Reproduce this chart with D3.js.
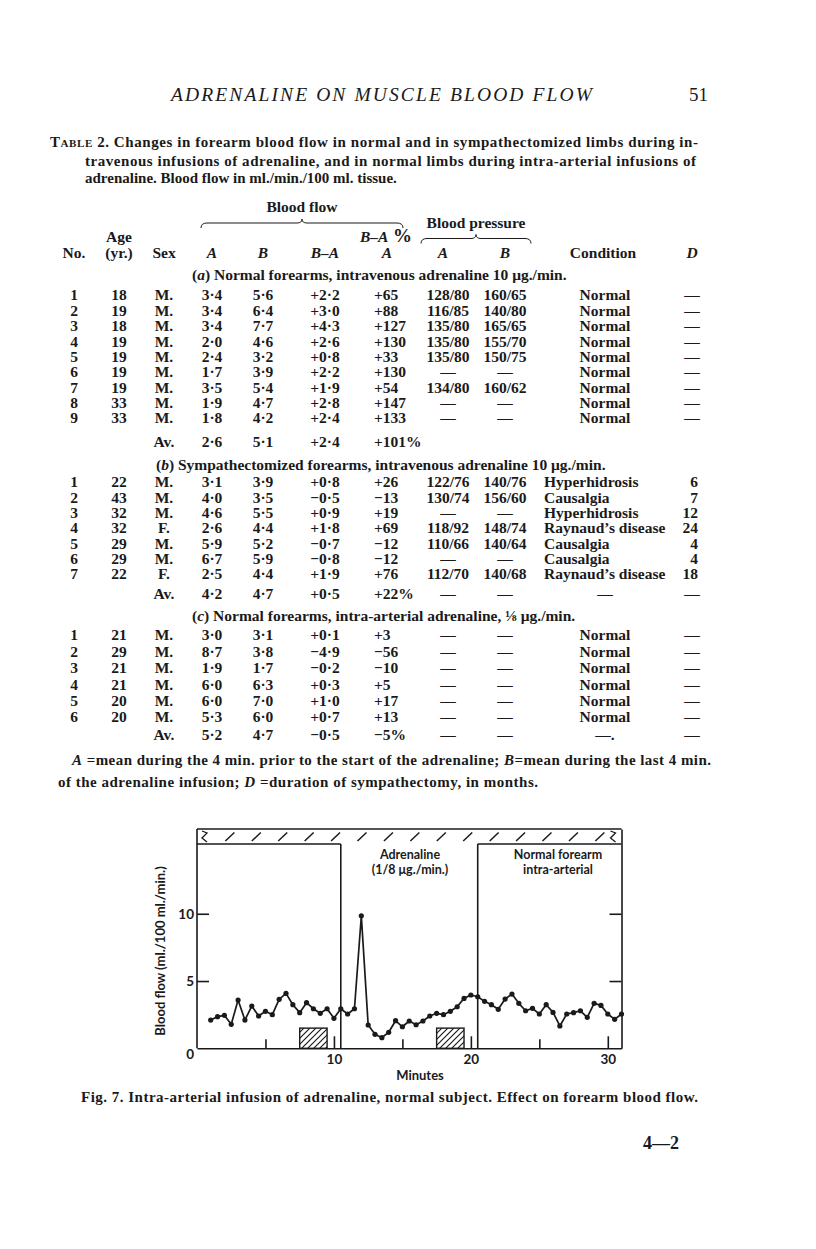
<!DOCTYPE html>
<html>
<head>
<meta charset="utf-8">
<script src="https://cdn.jsdelivr.net/npm/d3@7"></script>
<style>
  body { margin: 0; background: #fff; }
  svg text { fill: #1a1a1a; }
  .serif { font-family: "Liberation Serif", "Times New Roman", serif; }
  .sans { font-family: Lato, "Open Sans", sans-serif; font-weight: bold; }
</style>
</head>
<body>
<svg id="page" width="816" height="1249"></svg>
<script>
// ---- Table 2 data ----
const columns = ['no', 'age', 'sex', 'A', 'B', 'BA', 'pct', 'bpA', 'bpB', 'cond', 'D'];

const rowsA = [
  ['1', '18', 'M.', '3·4', '5·6', '+2·2', '+65', '128/80', '160/65', 'Normal', '—'],
  ['2', '19', 'M.', '3·4', '6·4', '+3·0', '+88', '116/85', '140/80', 'Normal', '—'],
  ['3', '18', 'M.', '3·4', '7·7', '+4·3', '+127', '135/80', '165/65', 'Normal', '—'],
  ['4', '19', 'M.', '2·0', '4·6', '+2·6', '+130', '135/80', '155/70', 'Normal', '—'],
  ['5', '19', 'M.', '2·4', '3·2', '+0·8', '+33', '135/80', '150/75', 'Normal', '—'],
  ['6', '19', 'M.', '1·7', '3·9', '+2·2', '+130', '—', '—', 'Normal', '—'],
  ['7', '19', 'M.', '3·5', '5·4', '+1·9', '+54', '134/80', '160/62', 'Normal', '—'],
  ['8', '33', 'M.', '1·9', '4·7', '+2·8', '+147', '—', '—', 'Normal', '—'],
  ['9', '33', 'M.', '1·8', '4·2', '+2·4', '+133', '—', '—', 'Normal', '—'],
  ['', '', 'Av.', '2·6', '5·1', '+2·4', '+101%', '', '', '', '']
];
const rowsB = [
  ['1', '22', 'M.', '3·1', '3·9', '+0·8', '+26', '122/76', '140/76', 'Hyperhidrosis', '6'],
  ['2', '43', 'M.', '4·0', '3·5', '−0·5', '−13', '130/74', '156/60', 'Causalgia', '7'],
  ['3', '32', 'M.', '4·6', '5·5', '+0·9', '+19', '—', '—', 'Hyperhidrosis', '12'],
  ['4', '32', 'F.', '2·6', '4·4', '+1·8', '+69', '118/92', '148/74', 'Raynaud’s disease', '24'],
  ['5', '29', 'M.', '5·9', '5·2', '−0·7', '−12', '110/66', '140/64', 'Causalgia', '4'],
  ['6', '29', 'M.', '6·7', '5·9', '−0·8', '−12', '—', '—', 'Causalgia', '4'],
  ['7', '22', 'F.', '2·5', '4·4', '+1·9', '+76', '112/70', '140/68', 'Raynaud’s disease', '18'],
  ['', '', 'Av.', '4·2', '4·7', '+0·5', '+22%', '—', '—', '—', '—']
];
const rowsC = [
  ['1', '21', 'M.', '3·0', '3·1', '+0·1', '+3', '—', '—', 'Normal', '—'],
  ['2', '29', 'M.', '8·7', '3·8', '−4·9', '−56', '—', '—', 'Normal', '—'],
  ['3', '21', 'M.', '1·9', '1·7', '−0·2', '−10', '—', '—', 'Normal', '—'],
  ['4', '21', 'M.', '6·0', '6·3', '+0·3', '+5', '—', '—', 'Normal', '—'],
  ['5', '20', 'M.', '6·0', '7·0', '+1·0', '+17', '—', '—', 'Normal', '—'],
  ['6', '20', 'M.', '5·3', '6·0', '+0·7', '+13', '—', '—', 'Normal', '—'],
  ['', '', 'Av.', '5·2', '4·7', '−0·5', '−5%', '—', '—', '—.', '—']
];

// ---- Fig. 7 data: forearm blood flow (ml./100 ml./min.) against minutes ----
const minutes = [1, 1.5, 2, 2.5, 3, 3.5, 4, 4.5, 5, 5.5, 6, 6.5, 7, 7.5, 8, 8.5, 9, 9.5, 10, 10.5,
  11, 11.5, 12, 12.5, 13, 13.5, 14, 14.5, 15, 15.5, 16, 16.5, 17, 17.5, 18, 18.5, 19, 19.5, 20, 20.5,
  21, 21.5, 22, 22.5, 23, 23.5, 24, 24.5, 25, 25.5, 26, 26.5, 27, 27.5, 28, 28.5, 29, 29.5, 30, 30.5, 31];
const flow = [2.10, 2.35, 2.45, 1.78, 3.59, 2.10, 3.14, 2.40, 2.75, 2.50, 3.64, 4.08, 3.24, 2.65, 3.39,
  2.94, 2.60, 2.94, 2.23, 2.94, 2.55, 2.94, 9.85, 1.73, 1.04, 0.79, 1.19, 2.05, 1.60, 2.03, 1.75, 2.03,
  2.40, 2.60, 2.50, 2.75, 3.09, 3.71, 3.96, 3.83, 3.49, 3.24, 2.90, 3.66, 4.03, 3.34, 2.79, 2.97, 2.55,
  3.24, 2.67, 1.66, 2.55, 2.65, 2.79, 2.30, 3.34, 3.19, 2.55, 2.15, 2.55];
const infusion = [10.5, 20.5];          // adrenaline on / off (min)
const occlusions = [[7.5, 9.5], [17.5, 19.5]]; // hatched blocks (min)
const xTicks = [5, 10, 15, 20, 25, 30];
const yTicks = [0, 5, 10];

const svg = d3.select('#page');
svg.append('rect').attr('width', 816).attr('height', 1249).attr('fill', '#fff');

// ---------- page header ----------
svg.append('text').attr('class', 'serif')
  .attr('x', 171).attr('y', 101).attr('font-size', 19.5).attr('font-style', 'italic')
  .attr('textLength', 421).attr('lengthAdjust', 'spacing')
  .text('ADRENALINE ON MUSCLE BLOOD FLOW');
svg.append('text').attr('class', 'serif')
  .attr('x', 708).attr('y', 101).attr('font-size', 19).attr('text-anchor', 'end').text('51');

// ---------- table caption ----------
const cap = svg.append('g').attr('class', 'serif').attr('font-size', 15).attr('font-weight', 'bold');
const c1 = cap.append('text').attr('x', 50).attr('y', 147).attr('textLength', 648).attr('lengthAdjust', 'spacing');
c1.append('tspan').text('T');
c1.append('tspan').attr('font-size', 11).text('ABLE');
c1.append('tspan').text(' 2. Changes in forearm blood flow in normal and in sympathectomized limbs during in-');
cap.append('text').attr('x', 85).attr('y', 166).attr('textLength', 611).attr('lengthAdjust', 'spacing')
  .text('travenous infusions of adrenaline, and in normal limbs during intra-arterial infusions of');
cap.append('text').attr('x', 85).attr('y', 183)
  .text('adrenaline.  Blood flow in ml./min./100 ml. tissue.');

// ---------- table ----------
const colX = d3.scaleOrdinal().domain(columns)
  .range([74, 119, 164, 212, 263, 325, 374, 448, 505, 605, 692]);

const tbl = svg.append('g').attr('class', 'serif').attr('font-size', 15.5).attr('font-weight', 'bold');

// column headings
const head = tbl.append('g');
head.append('text').attr('x', 302).attr('y', 207).attr('dy', '0.35em').attr('text-anchor', 'middle').text('Blood flow');
head.append('text').attr('x', 476).attr('y', 223).attr('dy', '0.35em').attr('text-anchor', 'middle').text('Blood pressure');
head.append('text').attr('x', colX('age')).attr('y', 237).attr('dy', '0.35em').attr('text-anchor', 'middle').text('Age');
const pctHead = head.append('text').attr('x', 386).attr('y', 237).attr('dy', '0.35em').attr('text-anchor', 'middle');
pctHead.append('tspan').attr('font-style', 'italic').text('B–A');
pctHead.append('tspan').attr('font-size', 19).text(' %');

const headings = [
  ['no', 'No.', false], ['age', '(yr.)', false], ['sex', 'Sex', false], ['A', 'A', true],
  ['B', 'B', true], ['BA', 'B–A', true], ['pct', 'A', true], ['bpA', 'A', true], ['bpB', 'B', true],
  ['cond', 'Condition', false], ['D', 'D', true]
];
const headX = { pct: 387, bpA: 443, cond: 603 };
head.selectAll('.colhead').data(headings).join('text')
  .attr('class', 'colhead')
  .attr('x', d => headX[d[0]] || colX(d[0]))
  .attr('y', 253).attr('dy', '0.35em').attr('text-anchor', 'middle')
  .attr('font-style', d => d[2] ? 'italic' : null)
  .text(d => d[1]);

// braces over the grouped columns
function brace(x0, x1, yb) {
  const m = (x0 + x1) / 2;
  return `M${x0},${yb + 5} Q${x0},${yb} ${x0 + 6},${yb} L${m - 5},${yb} Q${m},${yb} ${m},${yb - 4}` +
    ` Q${m},${yb} ${m + 5},${yb} L${x1 - 6},${yb} Q${x1},${yb} ${x1},${yb + 5}`;
}
head.append('path').attr('d', brace(201, 403, 223)).attr('fill', 'none').attr('stroke', '#1a1a1a').attr('stroke-width', 1);
head.append('path').attr('d', brace(421, 531, 238.5)).attr('fill', 'none').attr('stroke', '#1a1a1a').attr('stroke-width', 1);

// section headings
function sectionHead(y, x, label, rest) {
  const t = tbl.append('text').attr('x', x).attr('y', y).attr('dy', '0.35em');
  t.append('tspan').text('(');
  t.append('tspan').attr('font-style', 'italic').text(label);
  t.append('tspan').text(') ' + rest);
  return t;
}
sectionHead(275, 192, 'a', 'Normal forearms, intravenous adrenaline 10 μg./min.');
sectionHead(465, 156, 'b', 'Sympathectomized forearms, intravenous adrenaline 10 μg./min.');
sectionHead(616, 192, 'c', 'Normal forearms, intra-arterial adrenaline, ⅛ μg./min.');

function drawRows(rows, yFirst, yLastRow, yAv, leftCond) {
  const n = rows.length - 1;
  const y = d3.scaleLinear().domain([0, n - 1]).range([yFirst, yLastRow]);
  const g = tbl.append('g');
  rows.forEach((row, i) => {
    const ry = i < n ? y(i) : yAv;
    row.forEach((v, j) => {
      if (!v) return;
      const key = columns[j];
      let x = colX(key), anchor = 'middle';
      if (key === 'pct') anchor = 'start';
      if (leftCond && v !== '—') {
        if (key === 'cond') { x = 544; anchor = 'start'; }
        if (key === 'D') { x = 698; anchor = 'end'; }
      }
      g.append('text').attr('x', x).attr('y', ry).attr('dy', '0.35em')
        .attr('text-anchor', anchor).text(v);
    });
  });
}
drawRows(rowsA, 295, 418, 441.5, false);
drawRows(rowsB, 482, 574, 594, true);
drawRows(rowsC, 635, 717, 735, false);

// footnote
const fn = svg.append('g').attr('class', 'serif').attr('font-size', 15).attr('font-weight', 'bold');
const f1 = fn.append('text').attr('x', 72).attr('y', 765).attr('textLength', 639).attr('lengthAdjust', 'spacing');
f1.append('tspan').attr('font-style', 'italic').text('A');
f1.append('tspan').text(' =mean during the 4 min. prior to the start of the adrenaline; ');
f1.append('tspan').attr('font-style', 'italic').text('B');
f1.append('tspan').text('=mean during the last 4 min.');
const f2 = fn.append('text').attr('x', 58).attr('y', 787).attr('textLength', 480).attr('lengthAdjust', 'spacing');
f2.append('tspan').text('of the adrenaline infusion; ');
f2.append('tspan').attr('font-style', 'italic').text('D');
f2.append('tspan').text(' =duration of sympathectomy, in months.');

// ---------- Fig. 7 ----------
const x = d3.scaleLinear().domain([0, 31]).range([197, 621.5]);
const y = d3.scaleLinear().domain([0, 16.3]).range([1048.3, 829]);
const ink = '#1a1a1a';
const fig = svg.append('g');

const defs = svg.append('defs');
const pat = defs.append('pattern').attr('id', 'hatch').attr('patternUnits', 'userSpaceOnUse')
  .attr('width', 6).attr('height', 6);
pat.append('path').attr('d', 'M0,6 L6,0 M-1.5,1.5 L1.5,-1.5 M4.5,7.5 L7.5,4.5')
  .attr('stroke', ink).attr('stroke-width', 1.2);

// top band with break marks and slashes
const bandTop = y.range()[1], bandBot = bandTop + 15;
fig.append('line').attr('x1', x(0)).attr('x2', x(31)).attr('y1', bandTop).attr('y2', bandTop)
  .attr('stroke', ink).attr('stroke-width', 1.6);
fig.append('line').attr('x1', x(0)).attr('x2', x(infusion[0])).attr('y1', bandBot).attr('y2', bandBot)
  .attr('stroke', ink).attr('stroke-width', 1.6);
fig.append('line').attr('x1', x(infusion[1])).attr('x2', x(31)).attr('y1', bandBot).attr('y2', bandBot)
  .attr('stroke', ink).attr('stroke-width', 1.6);
fig.selectAll('.slash').data(d3.range(2.4, 30, 1.93)).join('line')
  .attr('class', 'slash')
  .attr('x1', d => x(d) - 4.5).attr('x2', d => x(d) + 4.5)
  .attr('y1', bandBot - 3).attr('y2', bandTop + 3.5)
  .attr('stroke', ink).attr('stroke-width', 1.5);
[x(0) + 8, x(31) - 8].forEach(cx => {
  fig.append('path')
    .attr('d', `M${cx - 3},${bandTop + 2} L${cx + 2},${bandTop + 4} L${cx - 3},${bandTop + 9} L${cx + 2},${bandBot - 2}`)
    .attr('fill', 'none').attr('stroke', ink).attr('stroke-width', 1.3);
});

// infusion dividers
fig.selectAll('.div').data(infusion).join('line')
  .attr('class', 'div')
  .attr('x1', d => x(d)).attr('x2', d => x(d))
  .attr('y1', bandBot).attr('y2', y(0))
  .attr('stroke', ink).attr('stroke-width', 1.6);

// axes
const axB = fig.append('g').attr('transform', `translate(0,${y(0)})`)
  .call(d3.axisBottom(x).tickValues(xTicks).tickSize(-9).tickSizeOuter(0).tickPadding(6)
    .tickFormat(d => d % 10 === 0 ? d : ''));
axB.selectAll('.tick line').attr('y2', d => d % 10 === 0 ? -12 : -9);
const axL = fig.append('g').attr('transform', `translate(${x(0)},0)`)
  .call(d3.axisLeft(y).tickValues(yTicks).tickSize(-12).tickSizeOuter(0).tickPadding(3));
axL.selectAll('.tick').filter(d => d === 0).select('line').remove();
axL.selectAll('.tick').filter(d => d === 0).select('text').attr('dy', '0.75em');
const axR = fig.append('g').attr('transform', `translate(${x(31)},0)`)
  .call(d3.axisRight(y).tickValues([5, 10]).tickSize(-12).tickSizeOuter(0).tickFormat(''));
[axB, axL, axR].forEach(a => {
  a.select('.domain').attr('stroke', ink).attr('stroke-width', 1.6);
  a.selectAll('.tick line').attr('stroke', ink).attr('stroke-width', 1.6);
  a.selectAll('text').attr('class', 'sans').attr('font-size', 13.5).attr('fill', ink);
  a.attr('font-family', null).attr('font-size', null);
});
axL.select('.domain').attr('d', `M0,${y(0)}V${bandTop}`);

// hatched blocks
fig.selectAll('.occ').data(occlusions).join('rect')
  .attr('class', 'occ')
  .attr('x', d => x(d[0])).attr('width', d => x(d[1]) - x(d[0]))
  .attr('y', y(1.5)).attr('height', y(0) - y(1.5))
  .attr('fill', 'url(#hatch)').attr('stroke', ink).attr('stroke-width', 1.4);

// flow trace
const pts = minutes.map((m, i) => [m, flow[i]]);
fig.append('path').datum(pts)
  .attr('fill', 'none').attr('stroke', ink).attr('stroke-width', 1.7).attr('stroke-linejoin', 'round')
  .attr('d', d3.line().x(d => x(d[0])).y(d => y(d[1])));
fig.selectAll('.pt').data(pts).join('circle')
  .attr('class', 'pt').attr('cx', d => x(d[0])).attr('cy', d => y(d[1])).attr('r', 2.6).attr('fill', ink);

// labels
const lab = fig.append('g').attr('class', 'sans').attr('font-size', 12.5).attr('text-anchor', 'middle');
lab.append('text').attr('x', 410).attr('y', 855).attr('dy', '0.35em').text('Adrenaline');
lab.append('text').attr('x', 410).attr('y', 870).attr('dy', '0.35em').text('(1/8 μg./min.)');
lab.append('text').attr('x', 558).attr('y', 855).attr('dy', '0.35em').text('Normal  forearm');
lab.append('text').attr('x', 558).attr('y', 870).attr('dy', '0.35em').text('intra-arterial');
lab.append('text').attr('x', 420).attr('y', 1075).attr('dy', '0.35em').attr('font-size', 13).text('Minutes');
lab.append('text').attr('transform', 'translate(160,951) rotate(-90)').attr('dy', '0.35em')
  .attr('font-size', 13).text('Blood flow  (ml./100 ml./min.)');

// figure caption and folio
svg.append('text').attr('class', 'serif').attr('font-size', 15).attr('font-weight', 'bold')
  .attr('x', 81).attr('y', 1102).attr('textLength', 617).attr('lengthAdjust', 'spacing')
  .text('Fig. 7.  Intra-arterial infusion of adrenaline, normal subject.  Effect on forearm blood flow.');
svg.append('text').attr('class', 'serif').attr('font-size', 18).attr('font-weight', 'bold')
  .attr('x', 661).attr('y', 1149).attr('text-anchor', 'middle').text('4—2');
</script>
</body>
</html>
